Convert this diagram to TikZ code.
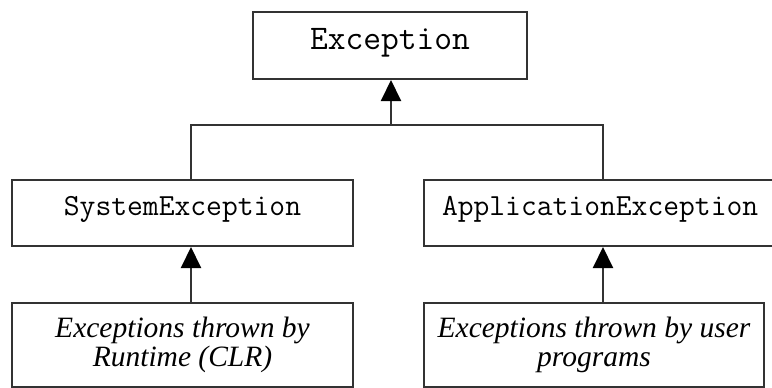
\documentclass[tikz,border=0pt]{standalone}
\usepackage{fontspec}
\setmainfont{Liberation Serif}
\usetikzlibrary{arrows.meta}
\definecolor{ink}{HTML}{333333}
\begin{document}
\begin{tikzpicture}[x=1pt,y=-1pt,
  box/.style={draw=ink,line width=2pt,rectangle,inner sep=0pt,fill=white},
  classbox/.style={box,font=\ttfamily\fontsize{30.7}{32}\selectfont,text depth=14pt},
  notebox/.style={box,font=\itshape\fontsize{29.5}{28.5}\selectfont,align=center},
  link/.style={draw=ink,line width=2pt},
  inherit/.style={link,-{Triangle[length=21pt,width=20pt,color=black]}}]
\useasboundingbox (0,0) rectangle (772,388);
% class boxes
\node[classbox,font=\ttfamily\fontsize{34.5}{36}\selectfont,minimum width=274pt,minimum height=67pt] (ex) at (390,45.5) {Exception};
\node[classbox,minimum width=341pt,minimum height=66pt] (sys) at (182.5,213) {SystemException};
\node[classbox,minimum width=376pt,minimum height=66pt,text width=340pt,align=left] (app) at (612,213) {ApplicationException};
% description boxes
\node[notebox,minimum width=341pt,minimum height=84pt] (rt) at (182.5,345) {Exceptions thrown by\\Runtime (CLR)};
\node[notebox,minimum width=340pt,minimum height=84pt] (usr) at (594,345) {Exceptions thrown by user\\programs};
% connector columns
\coordinate (jn) at (391,125);
\coordinate (cs) at (191,125);
\coordinate (ca) at (603,125);
% inheritance tree
\draw[link] (sys.north -| cs) -- (cs) -- (ca) -- (app.north -| ca);
\draw[inherit] (jn) -- (ex.south -| jn);
\draw[inherit] (rt.north -| cs) -- (sys.south -| cs);
\draw[inherit] (usr.north -| ca) -- (app.south -| ca);
\end{tikzpicture}
\end{document}
